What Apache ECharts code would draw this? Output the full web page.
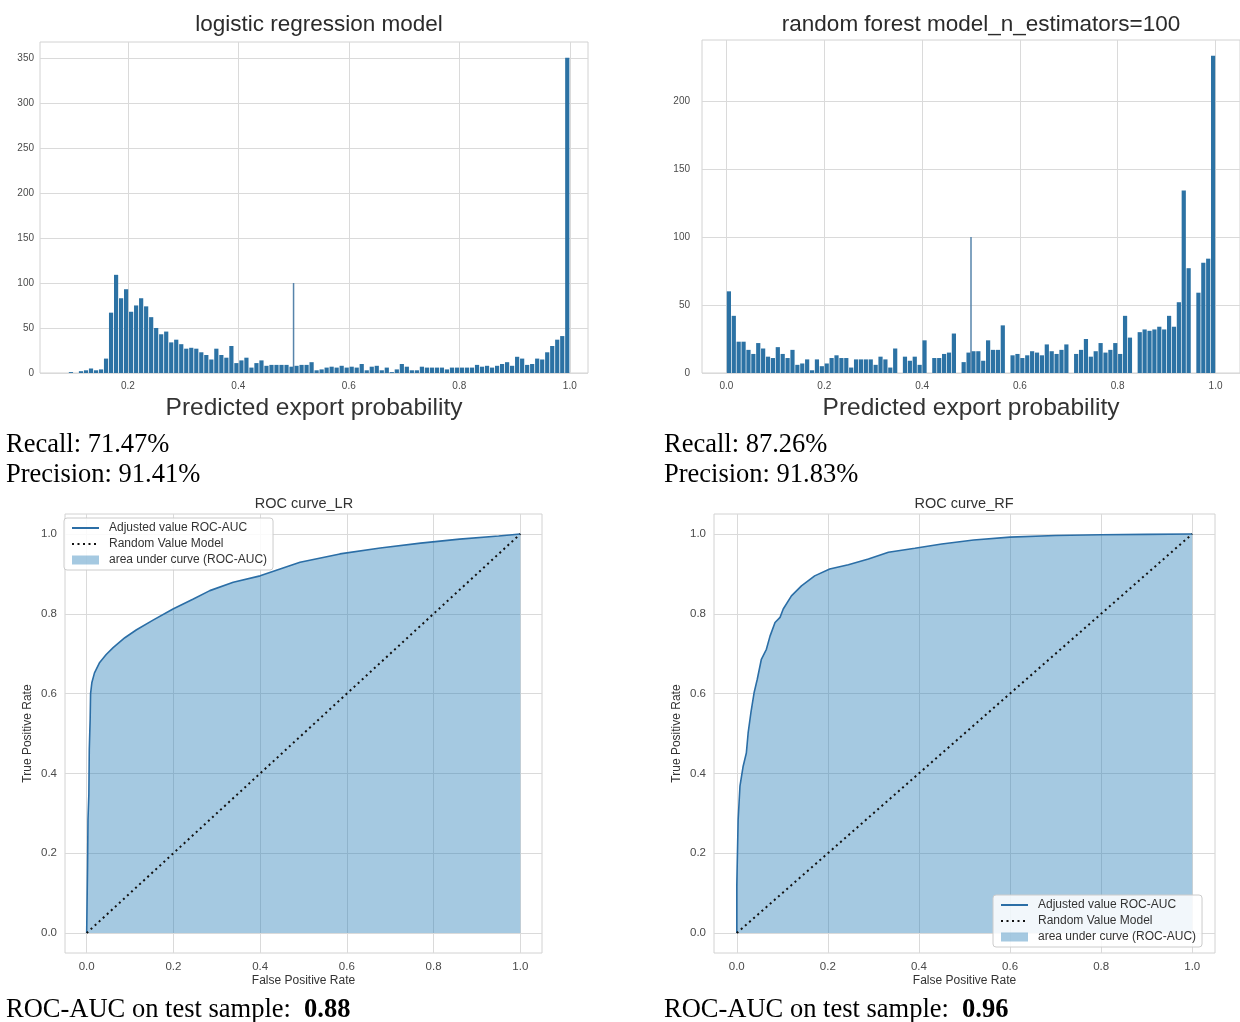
<!DOCTYPE html>
<html>
<head>
<meta charset="utf-8">
<title>Export probability - LR vs RF</title>
<script src="https://cdn.jsdelivr.net/npm/echarts@6/dist/echarts.min.js"></script>
<style>
  html, body { margin: 0; padding: 0; background: #fff; }
  #chart { width: 1240px; height: 1022px; }
</style>
</head>
<body>
<div id="chart"></div>
<script>
// ---- histogram counts (100 bins each) ----
const lrCounts = [
  1, 0, 2, 3, 5, 3, 4, 16, 67, 109,
  83, 93, 68, 75, 83, 74, 62, 50, 43, 46,
  34, 37, 32, 27, 28, 27, 23, 20, 15, 27,
  20, 17, 30, 11, 14, 17, 6, 11, 14, 8,
  9, 9, 9, 9, 7, 8, 9, 9, 12, 3,
  4, 6, 7, 6, 8, 6, 7, 6, 10, 3,
  7, 8, 3, 6, 1, 4, 10, 7, 3, 3,
  7, 6, 6, 6, 6, 4, 6, 6, 6, 6,
  6, 9, 7, 8, 6, 8, 10, 12, 8, 18,
  16, 9, 10, 16, 15, 23, 30, 37, 41, 350
]
const lrBinRange = [0.0925, 1.0]

const rfCounts = [
  60, 42, 23, 23, 17, 14, 22, 18, 12, 11,
  19, 14, 11, 17, 6, 7, 10, 2, 10, 5,
  7, 11, 13, 11, 11, 4, 10, 10, 10, 10,
  6, 12, 10, 4, 18, 0, 12, 9, 12, 6,
  24, 0, 11, 11, 14, 15, 29, 0, 8, 15,
  16, 16, 9, 24, 17, 17, 35, 0, 13, 14,
  11, 13, 16, 15, 13, 21, 16, 14, 17, 21,
  0, 14, 17, 25, 12, 16, 22, 15, 17, 22,
  14, 42, 26, 0, 30, 32, 31, 32, 34, 32,
  42, 34, 52, 134, 77, 0, 59, 81, 84, 233
]
const rfBinRange = [0, 1.0]

// the thin spike at p = 0.5 in both histograms
const spikeX = [0.5, 0.5]
const spikeY = [0, 100]

// ---- ROC curves ----
const lrFpr = [0, 0.002, 0.002, 0.003, 0.005, 0.006, 0.008, 0.009, 0.012, 0.018, 0.030, 0.045, 0.061, 0.088,
  0.115, 0.153, 0.199, 0.246, 0.284, 0.338, 0.400, 0.446, 0.492, 0.584, 0.677, 0.770, 0.860, 0.950, 1.0]
const lrTpr = [0, 0, 0.167, 0.284, 0.347, 0.460, 0.535, 0.600, 0.628, 0.652, 0.678, 0.698, 0.715, 0.740,
  0.760, 0.784, 0.812, 0.837, 0.858, 0.879, 0.895, 0.912, 0.929, 0.950, 0.965, 0.977, 0.987, 0.995, 1.0]

const rfFpr = [0, 0, 0.003, 0.007, 0.014, 0.021, 0.025, 0.031, 0.038, 0.045, 0.054, 0.065, 0.073, 0.084, 0.095,
  0.102, 0.120, 0.142, 0.171, 0.204, 0.245, 0.289, 0.333, 0.391, 0.450, 0.520, 0.600, 0.700, 0.800, 0.900, 1.0]
const rfTpr = [0, 0.116, 0.284, 0.368, 0.418, 0.451, 0.502, 0.552, 0.602, 0.636, 0.686, 0.711, 0.744, 0.778, 0.791,
  0.812, 0.845, 0.870, 0.895, 0.912, 0.923, 0.937, 0.954, 0.964, 0.975, 0.985, 0.992, 0.996, 0.998, 0.999, 1.0]

const diagFpr = [0, 1]
const diagTpr = [0, 1]

// ---- tick labels ----
const lrHistXTicks = [0.2, 0.4, 0.6, 0.8, 1.0]
const lrHistYTicks = [0, 50, 100, 150, 200, 250, 300, 350]
const rfHistXTicks = [0.0, 0.2, 0.4, 0.6, 0.8, 1.0]
const rfHistYTicks = [0, 50, 100, 150, 200]
const rocTicks = [0.0, 0.2, 0.4, 0.6, 0.8, 1.0]

const legendNames = ['Adjusted value ROC-AUC', 'Random Value Model', 'area under curve (ROC-AUC)']

const SANS = 'Liberation Sans, Arial, sans-serif'
const SERIF = 'Liberation Serif, Times New Roman, serif'
const BAR_COLOR = '#2c72a4'
const LINE_COLOR = '#2b6ea6'
const AREA_COLOR = 'rgba(31,119,180,0.4)'
const GRID_LINE = '#dadada'

// bin counts -> [binCenter, count]
function toBins(counts, range) {
  const w = (range[1] - range[0]) / counts.length
  return counts.map((c, i) => [range[0] + w * (i + 0.5), c])
}
function zip(xs, ys) {
  return xs.map((x, i) => [x, ys[i]])
}

// value axis with fixed tick positions
function axis(gridIndex, min, max, ticks, opts) {
  opts = opts || {}
  return Object.assign({
    type: 'value',
    gridIndex: gridIndex,
    min: min,
    max: max,
    axisLine: { show: false },
    axisTick: { show: false, customValues: ticks },
    axisLabel: {
      customValues: ticks,
      color: '#4a4a4a',
      fontFamily: SANS,
      fontSize: opts.fontSize || 10,
      margin: opts.margin || 8,
      formatter: opts.fmt || (v => v.toFixed(1)),
    },
    splitLine: { show: true, lineStyle: { color: GRID_LINE, width: 1 } },
  }, opts.extra || {})
}

function rocSeries(gx, fpr, tpr) {
  return [
    {
      name: 'area under curve (ROC-AUC)',
      type: 'line',
      xAxisIndex: gx, yAxisIndex: gx,
      data: zip(fpr, tpr),
      symbol: 'none',
      color: AREA_COLOR,
      lineStyle: { width: 0 },
      areaStyle: { color: AREA_COLOR, opacity: 1 },
      silent: true,
    },
    {
      name: 'Adjusted value ROC-AUC',
      type: 'line',
      xAxisIndex: gx, yAxisIndex: gx,
      data: zip(fpr, tpr),
      symbol: 'none',
      color: LINE_COLOR,
      lineStyle: { width: 1.6, color: LINE_COLOR },
      silent: true,
    },
    {
      name: 'Random Value Model',
      type: 'line',
      xAxisIndex: gx, yAxisIndex: gx,
      data: zip(diagFpr, diagTpr),
      symbol: 'none',
      color: '#111',
      lineStyle: { width: 2, color: '#111', type: [2, 3.5] },
      silent: true,
    },
  ]
}

function rocLegend(left, top) {
  return {
    left: left, top: top,
    orient: 'vertical',
    backgroundColor: 'rgba(255,255,255,0.85)',
    borderColor: '#cccccc',
    borderWidth: 1,
    borderRadius: 3,
    padding: [4, 6, 4, 7],
    itemGap: 4,
    itemWidth: 27,
    itemHeight: 9,
    textStyle: { fontFamily: SANS, fontSize: 12, color: '#333', padding: [0, 0, 0, 5] },
    selectedMode: false,
    data: [
      // line entries: hide the marker dot, keep the line
      { name: legendNames[0], itemStyle: { opacity: 0 } },
      { name: legendNames[1], itemStyle: { opacity: 0 } },
      { name: legendNames[2], icon: 'rect', itemStyle: { color: AREA_COLOR } },
    ],
  }
}

const histName = {
  name: 'Predicted export probability',
  nameLocation: 'middle',
  nameGap: 23,
  nameTextStyle: { fontFamily: SANS, fontSize: 24.5, color: '#333' },
}
const fprName = {
  name: 'False Positive Rate',
  nameLocation: 'middle',
  nameGap: 22,
  nameTextStyle: { fontFamily: SANS, fontSize: 12, color: '#333' },
}
const tprName = {
  name: 'True Positive Rate',
  nameLocation: 'middle',
  nameGap: 31,
  nameTextStyle: { fontFamily: SANS, fontSize: 12, color: '#333' },
}

const gridBox = { show: true, borderColor: '#d2d2d2', borderWidth: 1, backgroundColor: 'transparent' }

const chart = echarts.init(document.getElementById('chart'))
const option = {
  animation: false,
  backgroundColor: '#fff',
  grid: [
    Object.assign({ left: 40, right: 652, top: 42, bottom: 649 }, gridBox),
    Object.assign({ left: 702, right: -18, top: 40, bottom: 649 }, gridBox),
    Object.assign({ left: 65, right: 698, top: 514, bottom: 69 }, gridBox),
    Object.assign({ left: 714, right: 25, top: 514, bottom: 69 }, gridBox),
  ],
  xAxis: [
    axis(0, 0.041, 1.033, lrHistXTicks, { extra: histName }),
    axis(1, -0.05, 1.05, rfHistXTicks, { extra: histName }),
    axis(2, -0.05, 1.05, rocTicks, { fontSize: 11.5, extra: fprName }),
    axis(3, -0.05, 1.05, rocTicks, { fontSize: 11.5, extra: fprName }),
  ],
  yAxis: [
    axis(0, 0, 367.5, lrHistYTicks, { fmt: v => String(v), margin: 6 }),
    axis(1, 0, 244.65, rfHistYTicks, { fmt: v => String(v), margin: 12 }),
    axis(2, -0.05, 1.05, rocTicks, { fontSize: 11.5, extra: tprName }),
    axis(3, -0.05, 1.05, rocTicks, { fontSize: 11.5, extra: tprName }),
  ],
  legend: [rocLegend(64, 518), rocLegend(993, 895)],
  series: [
    {
      type: 'bar',
      xAxisIndex: 0, yAxisIndex: 0,
      data: toBins(lrCounts, lrBinRange),
      barWidth: 4.2,
      itemStyle: { color: BAR_COLOR },
      silent: true,
    },
    {
      type: 'line',
      xAxisIndex: 0, yAxisIndex: 0,
      data: zip(spikeX, spikeY),
      symbol: 'none',
      lineStyle: { width: 1.5, color: '#5784ab' },
      silent: true,
    },
    {
      type: 'bar',
      xAxisIndex: 1, yAxisIndex: 1,
      data: toBins(rfCounts, rfBinRange),
      barWidth: 4.2,
      itemStyle: { color: BAR_COLOR },
      silent: true,
    },
    {
      type: 'line',
      xAxisIndex: 1, yAxisIndex: 1,
      data: zip(spikeX, spikeY),
      symbol: 'none',
      lineStyle: { width: 1.5, color: '#5784ab' },
      silent: true,
    },
  ].concat(rocSeries(2, lrFpr, lrTpr), rocSeries(3, rfFpr, rfTpr)),
  graphic: [
    // panel titles
    { type: 'text', x: 319, y: 25, style: { text: 'logistic regression model', align: 'center', verticalAlign: 'middle', fontFamily: SANS, fontSize: 22.5, fill: '#2b2b2b' } },
    { type: 'text', x: 981, y: 25, style: { text: 'random forest model_n_estimators=100', align: 'center', verticalAlign: 'middle', fontFamily: SANS, fontSize: 22.5, fill: '#2b2b2b' } },
    { type: 'text', x: 304, y: 504, style: { text: 'ROC curve_LR', align: 'center', verticalAlign: 'middle', fontFamily: SANS, fontSize: 14.5, fill: '#333' } },
    { type: 'text', x: 964, y: 504, style: { text: 'ROC curve_RF', align: 'center', verticalAlign: 'middle', fontFamily: SANS, fontSize: 14.5, fill: '#333' } },
    // metrics
    { type: 'text', x: 6, y: 445, style: { text: 'Recall: 71.47%', verticalAlign: 'middle', fontFamily: SERIF, fontSize: 26.5, fill: '#000' } },
    { type: 'text', x: 6, y: 475, style: { text: 'Precision: 91.41%', verticalAlign: 'middle', fontFamily: SERIF, fontSize: 26.5, fill: '#000' } },
    { type: 'text', x: 664, y: 445, style: { text: 'Recall: 87.26%', verticalAlign: 'middle', fontFamily: SERIF, fontSize: 26.5, fill: '#000' } },
    { type: 'text', x: 664, y: 475, style: { text: 'Precision: 91.83%', verticalAlign: 'middle', fontFamily: SERIF, fontSize: 26.5, fill: '#000' } },
    {
      type: 'text', x: 6, y: 1010,
      style: {
        text: '{n|ROC-AUC on test sample:  }{b|0.88}', verticalAlign: 'middle',
        rich: { n: { fontFamily: SERIF, fontSize: 26.5, color: '#000' }, b: { fontFamily: SERIF, fontSize: 26.5, fontWeight: 'bold', color: '#000' } },
      },
    },
    {
      type: 'text', x: 664, y: 1010,
      style: {
        text: '{n|ROC-AUC on test sample:  }{b|0.96}', verticalAlign: 'middle',
        rich: { n: { fontFamily: SERIF, fontSize: 26.5, color: '#000' }, b: { fontFamily: SERIF, fontSize: 26.5, fontWeight: 'bold', color: '#000' } },
      },
    },
  ],
}
chart.setOption(option)
</script>
</body>
</html>
